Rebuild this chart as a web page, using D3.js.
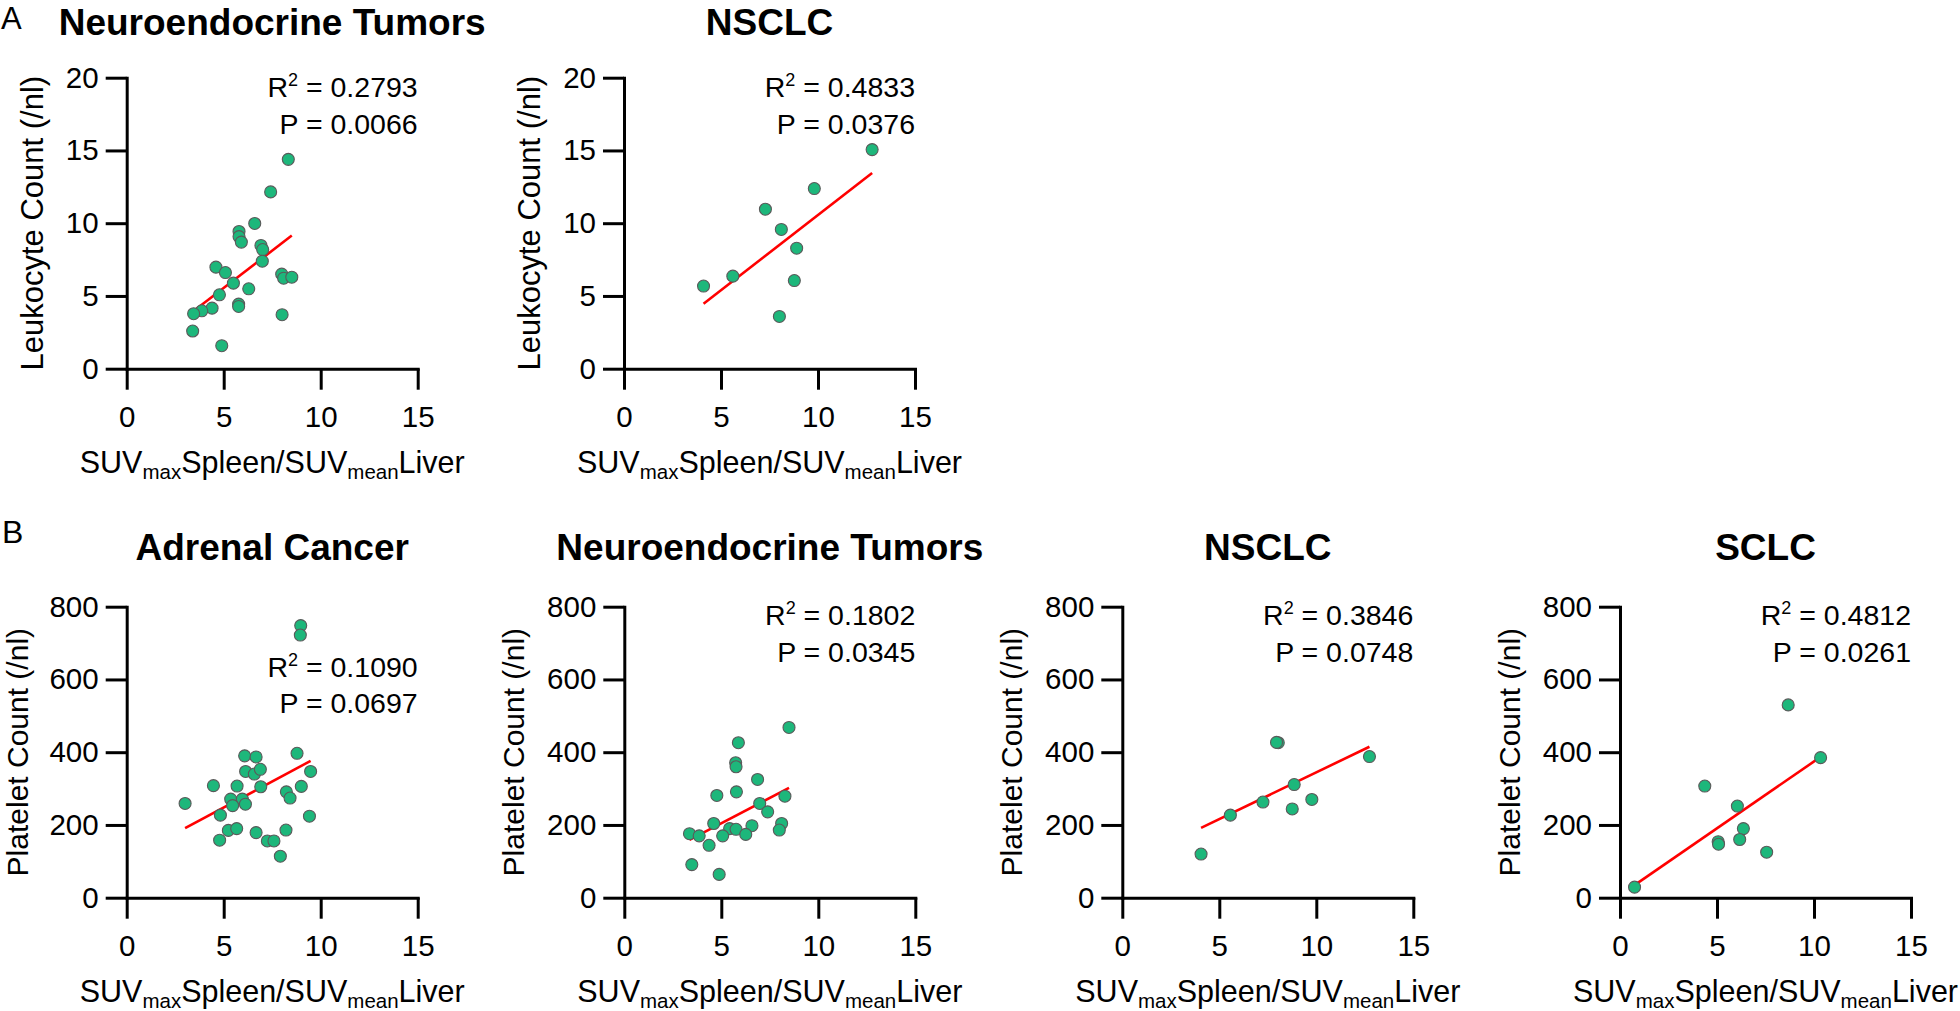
<!DOCTYPE html>
<html>
<head>
<meta charset="utf-8">
<script src="https://cdn.jsdelivr.net/npm/d3@7"></script>
<style>
  html, body { margin: 0; padding: 0; background: #fff; }
  svg { display: block; font-family: "Liberation Sans", Arial, Helvetica, sans-serif; }
</style>
</head>
<body>
<svg id="chart" width="1960" height="1011"></svg>
<script>
// ---------------- DATA ----------------
const xTicks = [0, 5, 10, 15];
const leukTicks = [0, 5, 10, 15, 20];
const pltTicks = [0, 200, 400, 600, 800];

// A: Leukocyte count
const netLeukX = [8.33, 7.42, 6.60, 5.79, 5.79, 5.91, 6.92, 7.01, 6.99, 4.60, 5.09, 5.50, 6.29, 4.78, 7.99, 8.09, 8.51, 5.77, 5.77, 4.40, 3.87, 3.45, 8.01, 3.40, 4.90];
const netLeukY = [14.39, 12.15, 9.98, 9.43, 9.08, 8.70, 8.47, 8.19, 7.39, 6.98, 6.61, 5.88, 5.49, 5.08, 6.50, 6.22, 6.29, 4.44, 4.28, 4.16, 3.98, 3.78, 3.71, 2.59, 1.58];
const netLeukFit = [[3.40, 3.91], [8.51, 9.15]];

const nsclcLeukX = [12.79, 9.81, 7.29, 8.11, 8.90, 5.61, 4.10, 8.78, 8.01];
const nsclcLeukY = [15.06, 12.38, 10.96, 9.57, 8.28, 6.36, 5.68, 6.06, 3.59];
const nsclcLeukFit = [[4.10, 4.46], [12.79, 13.45]];

// B: Platelet count
const adrenalPltX = [8.97, 8.95, 8.78, 6.08, 6.67, 6.13, 6.58, 6.89, 9.48, 4.47, 5.69, 6.91, 9.00, 8.23, 8.42, 5.36, 5.96, 3.01, 5.46, 6.12, 4.83, 9.42, 5.24, 5.67, 6.67, 8.21, 4.79, 7.25, 7.59, 7.92];
const adrenalPltY = [748, 722, 397, 390, 387, 347, 340, 353, 347, 308, 307, 305, 306, 291, 274, 271, 271, 259, 253, 257, 227, 224, 185, 190, 179, 186, 158, 156, 156, 114];
const adrenalPltFit = [[3.01, 191], [9.48, 376]];

const netPltX = [8.49, 5.88, 5.74, 5.76, 6.87, 4.77, 5.78, 8.28, 6.98, 7.39, 4.61, 8.11, 7.99, 6.58, 5.43, 5.76, 3.36, 3.86, 5.07, 6.26, 4.37, 3.48, 4.89];
const netPltY = [468, 426, 371, 360, 325, 281, 291, 279, 259, 236, 204, 204, 186, 198, 190, 188, 176, 170, 170, 174, 144, 91, 64];
const netPltFit = [[3.36, 159], [8.49, 302]];

const nsclcPltX = [8.04, 7.95, 12.74, 8.86, 7.25, 9.77, 8.76, 5.57, 4.06];
const nsclcPltY = [426, 427, 388, 311, 263, 270, 244, 227, 120];
const nsclcPltFit = [[4.06, 192], [12.74, 415]];

const sclcPltX = [8.67, 10.34, 4.37, 6.05, 6.36, 6.17, 5.06, 5.08, 7.56, 0.75];
const sclcPltY = [530, 385, 307, 252, 190, 160, 154, 147, 125, 29];
const sclcPltFit = [[0.75, 34.5], [10.34, 387]];

const titles = ["Neuroendocrine Tumors", "NSCLC", "Adrenal Cancer", "Neuroendocrine Tumors", "NSCLC", "SCLC"];
const r2Labels = ["0.2793", "0.4833", "0.1090", "0.1802", "0.3846", "0.4812"];
const pLabels = ["0.0066", "0.0376", "0.0697", "0.0345", "0.0748", "0.0261"];
const yLabels = ["Leukocyte Count (/nl)", "Platelet Count (/nl)"];

// ---------------- LAYOUT ----------------
const PW = 291, PH = 291;
const panels = [
  { xs: netLeukX, ys: netLeukY, fit: netLeukFit, ticks: leukTicks, yl: 0, left: 126.7, top: 77.7, titleDy: 42.7, statsDy: 19.5 },
  { xs: nsclcLeukX, ys: nsclcLeukY, fit: nsclcLeukFit, ticks: leukTicks, yl: 0, left: 624, top: 77.7, titleDy: 42.7, statsDy: 19.5 },
  { xs: adrenalPltX, ys: adrenalPltY, fit: adrenalPltFit, ticks: pltTicks, yl: 1, left: 126.7, top: 606.7, titleDy: 46.7, statsDy: 70 },
  { xs: netPltX, ys: netPltY, fit: netPltFit, ticks: pltTicks, yl: 1, left: 624.3, top: 606.7, titleDy: 46.7, statsDy: 18.5 },
  { xs: nsclcPltX, ys: nsclcPltY, fit: nsclcPltFit, ticks: pltTicks, yl: 1, left: 1122.3, top: 606.7, titleDy: 46.7, statsDy: 18.5 },
  { xs: sclcPltX, ys: sclcPltY, fit: sclcPltFit, ticks: pltTicks, yl: 1, left: 1620, top: 606.7, titleDy: 46.7, statsDy: 18.5 }
];

const svg = d3.select("#chart");
const DOT = "#1db77b", DOT_STROKE = "#5a5a5a";

svg.append("text").attr("x", 1).attr("y", 29).attr("font-size", 31).text("A");
svg.append("text").attr("x", 2).attr("y", 543).attr("font-size", 32).text("B");

panels.forEach((p, i) => {
  const yMax = d3.max(p.ticks);
  const x = d3.scaleLinear().domain([0, 15]).range([p.left, p.left + PW]);
  const y = d3.scaleLinear().domain([0, yMax]).range([p.top + PH, p.top]);
  const g = svg.append("g");
  const cx = p.left + PW / 2;

  // axes
  const xAxis = g.append("g").attr("transform", `translate(0,${p.top + PH})`)
    .call(d3.axisBottom(x).tickValues(xTicks).tickSize(21).tickSizeOuter(0).tickPadding(16));
  const yAxis = g.append("g").attr("transform", `translate(${p.left},0)`)
    .call(d3.axisLeft(y).tickValues(p.ticks).tickSize(21).tickSizeOuter(0).tickPadding(7));
  [xAxis, yAxis].forEach(a => {
    a.selectAll("path, line").attr("stroke", "#000").attr("stroke-width", 3);
    a.select(".domain").attr("stroke-linecap", "square");
    a.selectAll("text").attr("font-size", 29.5).attr("fill", "#000")
      .attr("font-family", "'Liberation Sans', Arial, sans-serif");
  });

  // y-axis label
  const tickLeft = d3.min(yAxis.selectAll("text").nodes(), n => n.getBBox().x) + p.left;
  const yLabSize = p.yl === 0 ? 31 : 30;
  g.append("text")
    .attr("transform", `translate(${Math.max(tickLeft - 23, 28)},${p.top + PH / 2}) rotate(-90)`)
    .attr("text-anchor", "middle").attr("font-size", yLabSize)
    .text(yLabels[p.yl]);

  // x-axis label
  const xl = g.append("text").attr("x", cx).attr("y", p.top + PH + 104)
    .attr("text-anchor", "middle").attr("font-size", 30.5);
  xl.append("tspan").text("SUV");
  xl.append("tspan").attr("font-size", 20.5).attr("dy", 6).text("max");
  xl.append("tspan").attr("dy", -6).text("Spleen/SUV");
  xl.append("tspan").attr("font-size", 20.5).attr("dy", 6).text("mean");
  xl.append("tspan").attr("dy", -6).text("Liver");

  // title
  g.append("text").attr("x", cx).attr("y", p.top - p.titleDy)
    .attr("text-anchor", "middle").attr("font-size", 37).attr("font-weight", "bold")
    .text(titles[i]);

  // fit line
  g.append("line")
    .attr("x1", x(p.fit[0][0])).attr("y1", y(p.fit[0][1]))
    .attr("x2", x(p.fit[1][0])).attr("y2", y(p.fit[1][1]))
    .attr("stroke", "#ff0000").attr("stroke-width", 2.6);

  // points
  g.selectAll("circle.pt").data(p.xs.map((v, k) => [v, p.ys[k]])).join("circle")
    .attr("class", "pt")
    .attr("cx", d => x(d[0])).attr("cy", d => y(d[1])).attr("r", 6)
    .attr("fill", DOT).attr("stroke", DOT_STROKE).attr("stroke-width", 1.1);

  // stats
  const sx = p.left + PW;
  const r2 = g.append("text").attr("x", sx).attr("y", p.top + p.statsDy)
    .attr("text-anchor", "end").attr("font-size", 28.5);
  r2.append("tspan").text("R");
  r2.append("tspan").attr("font-size", 18).attr("dy", -11).text("2");
  r2.append("tspan").attr("dy", 11).text(" = " + r2Labels[i]);
  g.append("text").attr("x", sx).attr("y", p.top + p.statsDy + 36.5)
    .attr("text-anchor", "end").attr("font-size", 28.5)
    .text("P = " + pLabels[i]);
});
</script>
</body>
</html>
